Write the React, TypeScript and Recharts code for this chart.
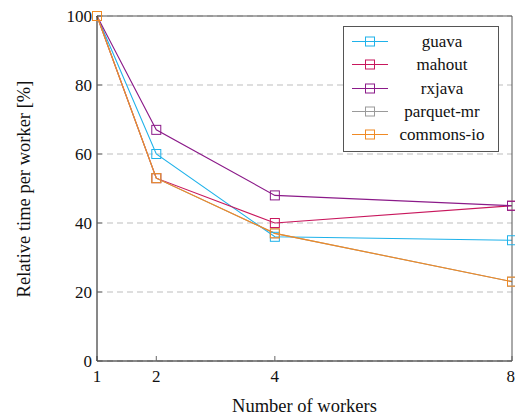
import React from 'react';
import { LineChart, Line, XAxis, YAxis, CartesianGrid, Legend } from 'recharts';

const workers = [1, 2, 4, 8];
const guava = [100, 60, 36, 35];
const mahout = [100, 53, 40, 45];
const rxjava = [100, 67, 48, 45];
const parquetMr = [100, 53, 37, 23];
const commonsIo = [100, 53, 37, 23];
const yTicks = [0, 20, 40, 60, 80, 100];

const SERIES = [
  { key: 'guava', values: guava, color: '#1fb2ea' },
  { key: 'mahout', values: mahout, color: '#c8175d' },
  { key: 'rxjava', values: rxjava, color: '#8b1a89' },
  { key: 'parquet-mr', values: parquetMr, color: '#9a9a9a' },
  { key: 'commons-io', values: commonsIo, color: '#f08a24' },
];

const data = workers.map((w, i) => {
  const row: Record<string, number> = { workers: w };
  SERIES.forEach(s => { row[s.key] = s.values[i]; });
  return row;
});

const FONT = '"Liberation Serif", "Times New Roman", serif';

const squareDot = (color: string) => (props: any) => {
  const { cx, cy, index } = props;
  return <rect key={`d-${index}`} x={cx - 4.5} y={cy - 4.5} width={9} height={9} fill="none" stroke={color} strokeWidth={1} />;
};

const LegendBox = () => (
  <div style={{
    width: 154, height: 121, border: '1px solid #555', background: '#fff',
    paddingTop: 3, boxSizing: 'content-box', fontFamily: FONT, fontSize: 17,
  }}>
    {SERIES.map(s => (
      <div key={s.key} style={{ height: 23.3, position: 'relative' }}>
        <svg width={44} height={23} style={{ position: 'absolute', left: 0, top: 0 }}>
          <line x1={8} x2={44} y1={11.5} y2={11.5} stroke={s.color} strokeWidth={1} />
          <rect x={21.5} y={7} width={9} height={9} fill="none" stroke={s.color} strokeWidth={1} />
        </svg>
        <div style={{ position: 'absolute', left: 48, width: 100, top: 0, lineHeight: '23px', textAlign: 'center', color: '#111' }}>
          {s.key}
        </div>
      </div>
    ))}
  </div>
);

const tickStyle = { fontFamily: FONT, fontSize: 17, fill: '#111' };

export default function App() {
  return (
    <div style={{ position: 'absolute', left: 0, top: 0, background: '#fff' }}>
      <LineChart width={515} height={415} data={data} margin={{ top: 15, right: 2, bottom: 0, left: 0 }}>
        <CartesianGrid vertical={false} horizontal stroke="#bdbdbd" strokeDasharray="6 4" yAxisId="left" />
        <XAxis
          dataKey="workers" type="number" domain={[1, 8]} ticks={workers} xAxisId="bottom"
          height={54} tickSize={-5} tickMargin={14} tick={tickStyle}
          axisLine={{ stroke: '#111' }} tickLine={{ stroke: '#666' }}
          label={{
            content: () => (
              <text x={304.5} y={412} textAnchor="middle" fontFamily={FONT} fontSize={18.5} fill="#111">
                Number of workers
              </text>
            ),
          }}
        />
        <XAxis
          dataKey="workers" type="number" domain={[1, 8]} ticks={workers} xAxisId="top" orientation="top"
          height={1} tickSize={-5} tick={false} axisLine={{ stroke: '#555' }} tickLine={{ stroke: '#666' }}
        />
        <YAxis
          yAxisId="left" type="number" domain={[0, 100]} ticks={yTicks} width={97}
          tickSize={-5} tickMargin={10} tick={tickStyle}
          axisLine={{ stroke: '#111' }} tickLine={{ stroke: '#666' }}
          label={{
            content: () => (
              <text x={0} y={0} transform="translate(30, 189) rotate(-90)" textAnchor="middle"
                fontFamily={FONT} fontSize={18.5} fill="#111">
                Relative time per worker [%]
              </text>
            ),
          }}
        />
        <YAxis
          yAxisId="right" orientation="right" type="number" domain={[0, 100]} ticks={yTicks} width={1}
          tickSize={-5} tick={false} axisLine={{ stroke: '#555' }} tickLine={{ stroke: '#666' }}
        />
        <Legend
          layout="vertical" align="center" verticalAlign="middle"
          wrapperStyle={{ left: 343, top: 26, width: 156, height: 124 }}
          content={() => <LegendBox />}
        />
        {SERIES.map(s => (
          <Line
            key={s.key} dataKey={s.key} name={s.key} xAxisId="bottom" yAxisId="left"
            type="linear" stroke={s.color} strokeWidth={1.1}
            dot={squareDot(s.color)} activeDot={false} isAnimationActive={false}
          />
        ))}
      </LineChart>
    </div>
  );
}
